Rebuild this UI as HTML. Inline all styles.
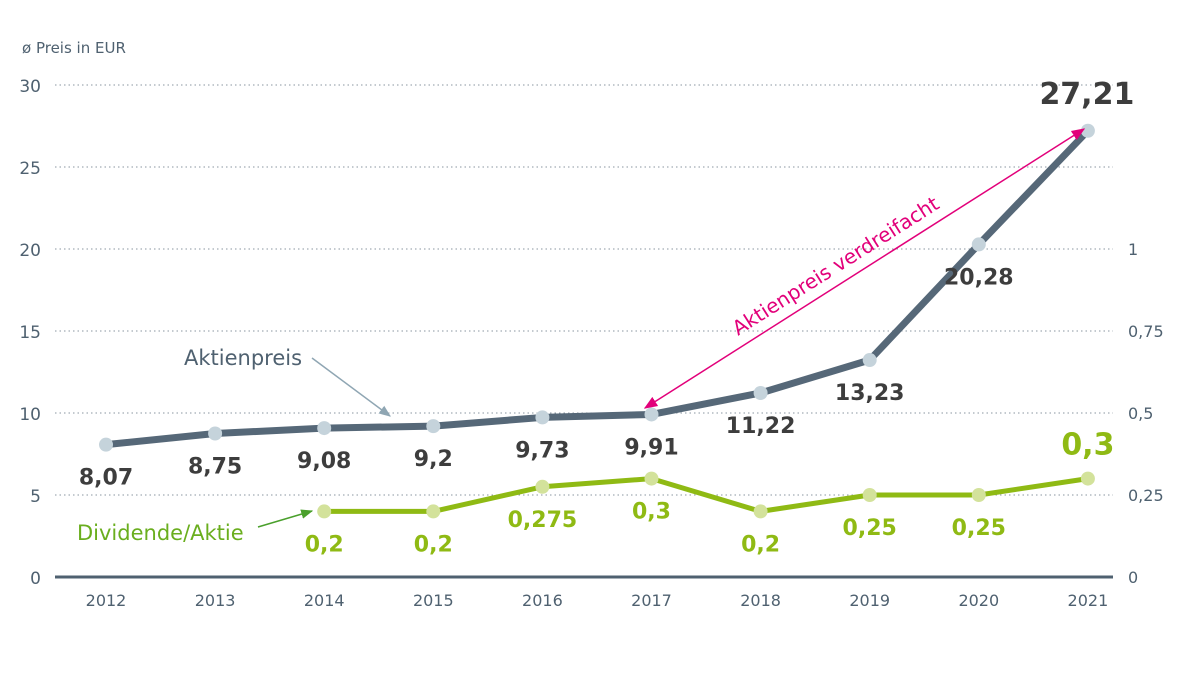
<!DOCTYPE html>
<html><head><meta charset="utf-8"><style>
body{margin:0;background:#fff;}
svg{display:block;font-family:"DejaVu Sans","Liberation Sans",sans-serif;}
</style></head><body>
<svg id="chart" width="1200" height="675" viewBox="0 0 1200 675">
<defs>
<marker id="mk" viewBox="0 0 10 10" refX="9" refY="5" markerWidth="9" markerHeight="9" orient="auto-start-reverse"><path d="M0,1 L10,5 L0,9 z" fill="#e2007a"/></marker>
<marker id="mg" viewBox="0 0 10 10" refX="9" refY="5" markerWidth="8" markerHeight="8" orient="auto"><path d="M0,1 L10,5 L0,9 z" fill="#8fa6b3"/></marker>
<marker id="mgr" viewBox="0 0 10 10" refX="9" refY="5" markerWidth="8" markerHeight="8" orient="auto"><path d="M0,1 L10,5 L0,9 z" fill="#4aa02c"/></marker>
</defs>
<text x="22" y="53" font-size="15" fill="#4f6170">ø Preis in EUR</text>
<g id="grid"></g><g id="lines"></g><g id="labels"></g>
<line x1="645" y1="408" x2="1084" y2="129" stroke="#e2007a" stroke-width="1.5" marker-start="url(#mk)" marker-end="url(#mk)"/>
<text transform="translate(738,336) rotate(-32.4)" font-size="20" fill="#e2007a">Aktienpreis verdreifacht</text>
<text x="184" y="365" font-size="21" fill="#4f6170">Aktienpreis</text>
<line x1="312" y1="358" x2="390" y2="416" stroke="#8fa6b3" stroke-width="1.5" marker-end="url(#mg)"/>
<text x="77" y="540" font-size="21" fill="#6aae1e">Dividende/Aktie</text>
<line x1="258" y1="527" x2="312" y2="511" stroke="#4aa02c" stroke-width="1.5" marker-end="url(#mgr)"/>
</svg>
<script>
const years=["2012","2013","2014","2015","2016","2017","2018","2019","2020","2021"];
const price=[8.07,8.75,9.08,9.2,9.73,9.91,11.22,13.23,20.28,27.21];
const priceText=["8,07","8,75","9,08","9,2","9,73","9,91","11,22","13,23","20,28","27,21"];
const divYears=["2014","2015","2016","2017","2018","2019","2020","2021"];
const dividend=[0.2,0.2,0.275,0.3,0.2,0.25,0.25,0.3];
const divText=["0,2","0,2","0,275","0,3","0,2","0,25","0,25","0,3"];
const leftTicks=[0,5,10,15,20,25,30];
const rightTicks=[0,0.25,0.5,0.75,1];
const rightTickText=["0","0,25","0,5","0,75","1"];
const NS="http://www.w3.org/2000/svg";
const X0=55,X1=1113;
function x(y){return 106+years.indexOf(y)*109.1;}
function yL(v){return 577-v*16.4;}
function yR(v){return 577-v*328;}
function mk(tag,attrs,parent,text){const e=document.createElementNS(NS,tag);for(const k in attrs)e.setAttribute(k,attrs[k]);if(text!==undefined)e.textContent=text;parent.appendChild(e);return e;}
const grid=document.getElementById('grid'),lines=document.getElementById('lines'),labels=document.getElementById('labels');
leftTicks.forEach(v=>{
 if(v>0){const g=mk('line',{x1:X0,x2:X1,y1:yL(v),y2:yL(v),stroke:'#8a96a0','stroke-width':1,'stroke-dasharray':'1.5 3'},grid);
 
 }
 const t=mk('text',{x:41,y:yL(v)+7,'text-anchor':'end','font-size':17,fill:'#4f6170'},grid,String(v));
 
 
});
rightTicks.forEach((v,i)=>{
 const t=mk('text',{x:1128,y:yR(v)+6,'font-size':16,fill:'#4f6170'},grid,rightTickText[i]);
 
 
});
const ax=mk('line',{x1:X0,x2:X1,y1:577,y2:577,stroke:'#4f6170','stroke-width':3},grid);


years.forEach(y=>{
 const t=mk('text',{x:x(y),y:606,'text-anchor':'middle','font-size':16,fill:'#4f6170'},grid,y);
 
 
});
const pp=mk('polyline',{points:years.map((y,i)=>x(y)+','+yL(price[i])).join(' '),fill:'none',stroke:'#566878','stroke-width':7,'stroke-linejoin':'round'},lines);


const dp=mk('polyline',{points:divYears.map((y,i)=>x(y)+','+yR(dividend[i])).join(' '),fill:'none',stroke:'#8fba14','stroke-width':5,'stroke-linejoin':'round'},lines);


years.forEach((y,i)=>{
 const c=mk('circle',{cx:x(y),cy:yL(price[i]),r:7,fill:'#c5d3db'},lines);
 
 
 const last=i===years.length-1;
 const t=mk('text',{x:x(y)+(last?-1:0),y:last?yL(price[i])-27:yL(price[i])+40,'text-anchor':'middle','font-size':last?30:22,'font-weight':'bold',fill:'#3d3d3d'},labels,priceText[i]);
 
 
});
divYears.forEach((y,i)=>{
 const c=mk('circle',{cx:x(y),cy:yR(dividend[i]),r:7,fill:'#d3e29b'},lines);
 
 
 const last=i===divYears.length-1;
 const t=mk('text',{x:x(y),y:last?yR(dividend[i])-24:yR(dividend[i])+40,'text-anchor':'middle','font-size':last?30:22,'font-weight':'bold',fill:'#8fba14'},labels,divText[i]);
 
 
});
</script>
</body></html>
